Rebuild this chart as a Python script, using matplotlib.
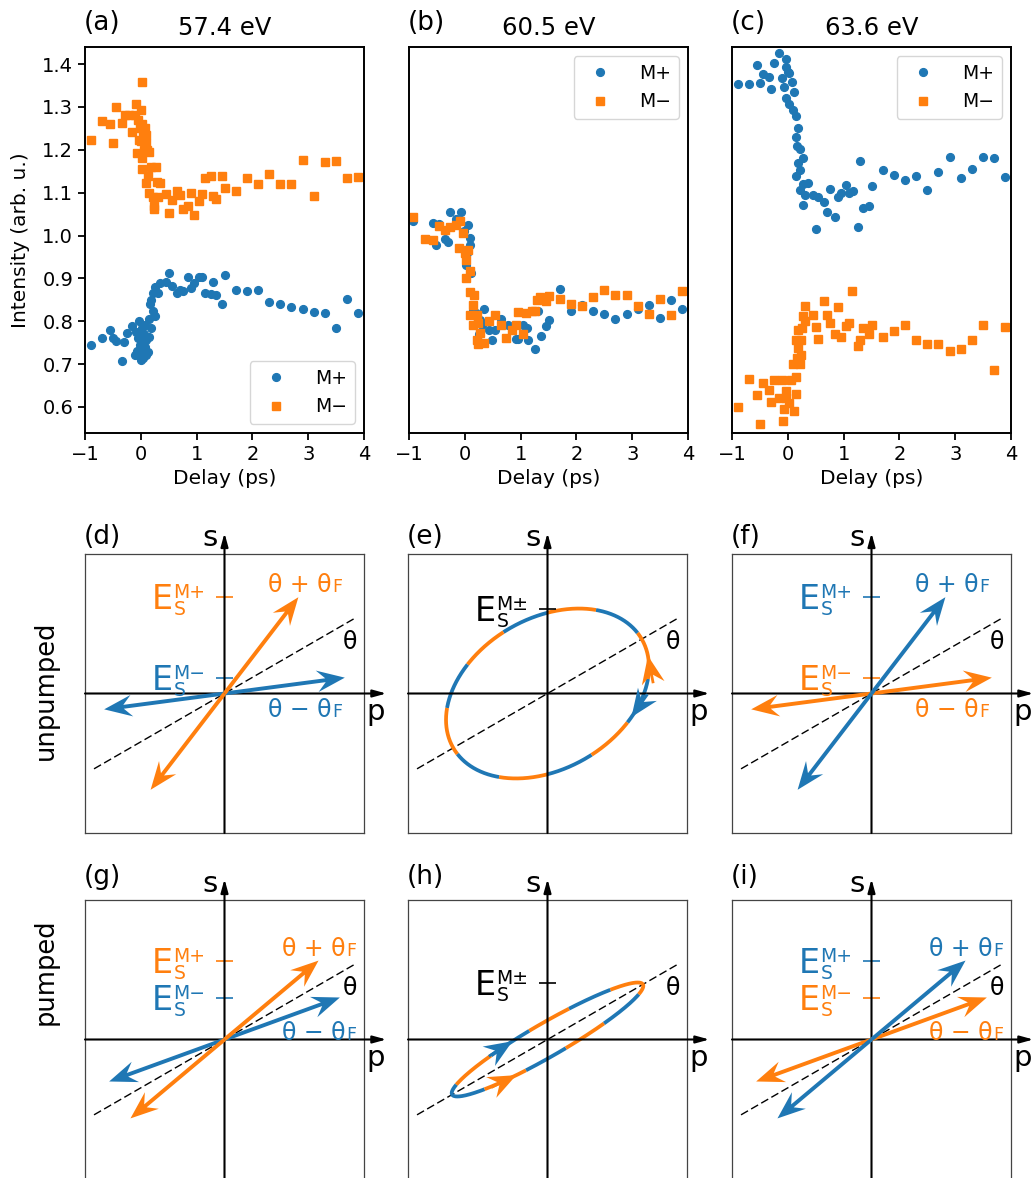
import numpy as np
import matplotlib
matplotlib.use('Agg')
import matplotlib.pyplot as plt

BLUE = '#1f77b4'
ORANGE = '#ff7f0e'

# ---- measured traces: delay (ps) and intensity (arb. u.) ----
energies = ['57.4 eV', '60.5 eV', '63.6 eV']

delay_a_plus = [-0.90, -0.70, -0.55, -0.49, -0.44, -0.34, -0.30, -0.25, -0.15, -0.10,
                -0.08, -0.06, -0.05, -0.04, -0.03, -0.02, 0.00, 0.00, 0.02, 0.03,
                0.04, 0.05, 0.05, 0.07, 0.08, 0.10, 0.10, 0.13, 0.15, 0.15,
                0.17, 0.19, 0.19, 0.22, 0.22, 0.25, 0.25, 0.31, 0.34, 0.45,
                0.51, 0.56, 0.64, 0.70, 0.75, 0.85, 0.90, 0.95, 1.05, 1.10,
                1.15, 1.25, 1.30, 1.35, 1.45, 1.50, 1.70, 1.90, 2.10, 2.30,
                2.50, 2.70, 2.90, 3.10, 3.30, 3.50, 3.70, 3.90]
int_a_plus = [0.744, 0.760, 0.780, 0.760, 0.753, 0.707, 0.751, 0.772, 0.789, 0.720,
              0.775, 0.730, 0.760, 0.720, 0.800, 0.745, 0.710, 0.765, 0.750, 0.785,
              0.715, 0.733, 0.770, 0.740, 0.790, 0.755, 0.720, 0.727, 0.763, 0.806,
              0.841, 0.784, 0.850, 0.823, 0.866, 0.811, 0.880, 0.866, 0.889, 0.891,
              0.912, 0.881, 0.866, 0.873, 0.871, 0.904, 0.877, 0.889, 0.902, 0.904,
              0.866, 0.864, 0.891, 0.862, 0.840, 0.908, 0.873, 0.871, 0.873, 0.845,
              0.840, 0.833, 0.828, 0.821, 0.819, 0.784, 0.852, 0.819]

delay_a_minus = [-0.90, -0.70, -0.55, -0.49, -0.44, -0.34, -0.28, -0.21, -0.16, -0.10,
                 -0.09, -0.07, -0.05, -0.04, -0.02, 0.00, 0.00, 0.02, 0.02, 0.03,
                 0.04, 0.05, 0.06, 0.08, 0.08, 0.10, 0.10, 0.12, 0.15, 0.15,
                 0.19, 0.22, 0.24, 0.24, 0.27, 0.29, 0.30, 0.34, 0.45, 0.51,
                 0.56, 0.64, 0.70, 0.75, 0.85, 0.90, 0.95, 1.05, 1.10, 1.15,
                 1.25, 1.30, 1.35, 1.45, 1.50, 1.70, 1.90, 2.10, 2.30, 2.50,
                 2.70, 2.90, 3.10, 3.30, 3.50, 3.70, 3.90, 0.02, 0.10, 0.13]
int_a_minus = [1.224, 1.267, 1.261, 1.217, 1.301, 1.263, 1.281, 1.281, 1.242, 1.281,
               1.308, 1.193, 1.270, 1.223, 1.250, 1.294, 1.220, 1.358, 1.260, 1.180,
               1.240, 1.200, 1.230, 1.207, 1.250, 1.235, 1.215, 1.200, 1.196, 1.099,
               1.161, 1.091, 1.069, 1.061, 1.161, 1.124, 1.091, 1.122, 1.096, 1.052,
               1.082, 1.104, 1.095, 1.062, 1.070, 1.100, 1.049, 1.080, 1.096, 1.135,
               1.139, 1.093, 1.085, 1.139, 1.112, 1.103, 1.135, 1.120, 1.143, 1.120,
               1.120, 1.176, 1.093, 1.171, 1.174, 1.134, 1.137, 1.155, 1.122, 1.140]

delay_b_plus = [-0.93, -0.57, -0.52, -0.46, -0.36, -0.31, -0.27, -0.15, -0.06, 0.02,
                0.06, 0.09, 0.09, 0.12, 0.14, 0.27, 0.35, 0.44, 0.49, 0.54,
                0.64, 0.78, 0.91, 0.95, 1.05, 1.11, 1.14, 1.25, 1.31, 1.36,
                1.45, 1.51, 1.70, 1.90, 2.10, 2.30, 2.50, 2.70, 2.90, 3.10,
                3.30, 3.50, 3.70, 3.90, -0.02, 0.04, 0.20, 0.30, 0.25]
int_b_plus = [1.033, 1.029, 0.978, 1.027, 0.991, 0.984, 1.054, 1.038, 1.054, 0.932,
              1.025, 0.994, 0.978, 0.912, 0.827, 0.803, 0.829, 0.779, 0.755, 0.779,
              0.806, 0.790, 0.759, 0.759, 0.790, 0.784, 0.755, 0.736, 0.823, 0.765,
              0.789, 0.803, 0.876, 0.823, 0.838, 0.824, 0.817, 0.805, 0.817, 0.828,
              0.838, 0.807, 0.850, 0.829, 1.010, 0.960, 0.820, 0.790, 0.770]

delay_b_minus = [-0.93, -0.72, -0.57, -0.46, -0.36, -0.27, -0.15, -0.09, -0.04, -0.10,
                 0.00, 0.06, 0.02, 0.02, 0.10, 0.09, 0.17, 0.15, 0.10, 0.21,
                 0.15, 0.24, 0.28, 0.21, 0.24, 0.35, 0.44, 0.54, 0.64, 0.74,
                 0.84, 0.91, 0.95, 1.05, 1.10, 1.20, 1.25, 1.29, 1.35, 1.45,
                 1.51, 1.70, 1.90, 2.10, 2.30, 2.50, 2.70, 2.90, 3.10, 3.30,
                 3.50, 3.70, 3.90]
int_b_minus = [1.044, 0.991, 0.990, 1.022, 1.013, 1.021, 1.025, 1.033, 1.005, 0.970,
               0.959, 0.967, 0.943, 0.901, 0.916, 0.869, 0.860, 0.838, 0.815, 0.815,
               0.792, 0.796, 0.772, 0.757, 0.747, 0.749, 0.800, 0.814, 0.792, 0.761,
               0.780, 0.792, 0.821, 0.769, 0.819, 0.823, 0.823, 0.849, 0.856, 0.846,
               0.859, 0.852, 0.840, 0.835, 0.856, 0.872, 0.862, 0.862, 0.836, 0.817,
               0.851, 0.815, 0.871]

delay_c_plus = [-0.90, -0.70, -0.55, -0.49, -0.45, -0.34, -0.30, -0.25, -0.15, -0.10,
                -0.04, -0.03, 0.00, -0.06, -0.04, 0.03, 0.08, 0.11, 0.03, 0.09,
                0.14, 0.18, 0.14, 0.17, 0.21, 0.27, 0.19, 0.22, 0.15, 0.28,
                0.36, 0.22, 0.30, 0.28, 0.45, 0.50, 0.55, 0.65, 0.70, 0.75,
                0.85, 0.90, 0.95, 1.05, 1.10, 1.16, 1.25, 1.30, 1.35, 1.45,
                1.50, 1.70, 1.90, 2.10, 2.30, 2.50, 2.70, 2.90, 3.10, 3.30,
                3.50, 3.70, 3.90]
int_c_plus = [1.353, 1.353, 1.399, 1.356, 1.378, 1.369, 1.343, 1.402, 1.427, 1.368,
              1.413, 1.394, 1.382, 1.346, 1.320, 1.380, 1.359, 1.336, 1.308, 1.294,
              1.280, 1.252, 1.231, 1.210, 1.202, 1.180, 1.169, 1.153, 1.140, 1.120,
              1.122, 1.106, 1.095, 1.071, 1.095, 1.016, 1.089, 1.078, 1.054, 1.109,
              1.044, 1.089, 1.100, 1.118, 1.099, 1.105, 1.021, 1.174, 1.064, 1.069,
              1.116, 1.153, 1.141, 1.130, 1.140, 1.106, 1.149, 1.184, 1.135, 1.155,
              1.183, 1.181, 1.136]

delay_c_minus = [-0.90, -0.70, -0.55, -0.49, -0.45, -0.34, -0.30, -0.25, -0.15, -0.09,
                 -0.10, -0.04, -0.03, -0.07, 0.02, 0.05, 0.11, 0.15, 0.15, 0.09,
                 0.16, 0.21, 0.24, 0.19, 0.24, 0.15, 0.19, 0.25, 0.30, 0.27,
                 0.30, 0.45, 0.50, 0.55, 0.65, 0.70, 0.75, 0.85, 0.90, 0.95,
                 1.05, 1.10, 1.15, 1.25, 1.30, 1.35, 1.45, 1.50, 1.70, 1.90,
                 2.10, 2.30, 2.50, 2.70, 2.90, 3.10, 3.30, 3.50, 3.70, 3.90]
int_c_minus = [0.600, 0.666, 0.627, 0.560, 0.656, 0.640, 0.611, 0.663, 0.621, 0.568,
               0.662, 0.637, 0.621, 0.594, 0.609, 0.662, 0.590, 0.629, 0.670, 0.699,
               0.714, 0.699, 0.720, 0.737, 0.757, 0.757, 0.780, 0.784, 0.836, 0.811,
               0.800, 0.815, 0.786, 0.759, 0.846, 0.815, 0.796, 0.769, 0.833, 0.763,
               0.788, 0.796, 0.871, 0.741, 0.757, 0.784, 0.769, 0.790, 0.763, 0.778,
               0.790, 0.757, 0.747, 0.747, 0.731, 0.734, 0.755, 0.792, 0.686, 0.786]

# ---- polarisation sketch parameters (degrees, field amplitude) ----
theta = 30.0
theta_F = {'unpumped': 22.5, 'pumped': 10.0}
lin_amp = {'unpumped': 0.87, 'pumped': 0.88}
ell_axes = {'unpumped': (0.78, 0.54), 'pumped': (0.79, 0.12)}

W, H, DPI = 1035, 1178, 100
fig = plt.figure(figsize=(W / DPI, H / DPI), dpi=DPI)
renderer = fig.canvas.get_renderer()
PX = 72.0 / DPI  # points per pixel


def box(x0, y0, w, h):
    return [x0 / W, 1 - (y0 + h) / H, w / W, h / H]


# ---------------- top row: data ----------------
lefts = [85, 409, 732]
traces = [(delay_a_plus, int_a_plus, delay_a_minus, int_a_minus),
          (delay_b_plus, int_b_plus, delay_b_minus, int_b_minus),
          (delay_c_plus, int_c_plus, delay_c_minus, int_c_minus)]
leg_loc = ['lower right', 'upper right', 'upper right']
for i in range(3):
    ax = fig.add_axes(box(lefts[i], 47, 279, 386))
    dp, ip, dm, im = traces[i]
    ax.plot(dp, ip, 'o', color=BLUE, ms=5.6, label='M+')
    ax.plot(dm, im, 's', color=ORANGE, ms=5.3, label='M−')
    ax.set_xlim(-1, 4)
    ax.set_ylim(0.539, 1.44)
    ax.set_xticks([-1, 0, 1, 2, 3, 4])
    ax.set_xlabel('Delay (ps)', fontsize=14.5)
    ax.set_title(energies[i], fontsize=17.5, pad=9)
    ax.tick_params(labelsize=14, width=1.3, length=5)
    for sp in ax.spines.values():
        sp.set_linewidth(1.4)
    if i == 0:
        ax.set_yticks(np.arange(0.6, 1.41, 0.1))
        ax.set_ylabel('Intensity (arb. u.)', fontsize=14.5, labelpad=9)
    else:
        ax.set_yticks([])
    ax.legend(loc=leg_loc[i], fontsize=13.5, numpoints=1, handletextpad=1.1)
    ax.annotate('(' + 'abc'[i] + ')', xy=(0, 1), xycoords='axes fraction',
                xytext=(-1, 17 * PX), textcoords='offset points',
                fontsize=19, ha='left', va='baseline')


# ---------------- sketches ----------------
def frame(ax, letter, label_gap):
    ax.set_xlim(-1, 1)
    ax.set_ylim(-1, 1)
    ax.set_xticks([])
    ax.set_yticks([])
    for sp in ax.spines.values():
        sp.set_color('#444444')
        sp.set_linewidth(0.9)
    arr = dict(arrowstyle='-|>,head_length=0.8,head_width=0.22', color='k',
               lw=1.5, shrinkA=0, shrinkB=0, mutation_scale=10)
    ax.annotate('', xy=(1.16, 0), xytext=(-1, 0), arrowprops=arr, annotation_clip=False)
    ax.annotate('', xy=(0, 1.15), xytext=(0, -1), arrowprops=arr, annotation_clip=False)
    th = np.radians(theta)
    ax.plot([-1.08 * np.cos(th), 1.08 * np.cos(th)], [-1.08 * np.sin(th), 1.08 * np.sin(th)],
            color='k', lw=1.0, ls=(0, (5.8, 2.6)))
    ax.text(0.90, 0.32, 'θ', fontsize=17, ha='center', va='baseline')
    ax.text(-0.05, 1.057, 's', fontsize=21, ha='right', va='baseline', clip_on=False)
    ax.text(1.02, -0.19, 'p', fontsize=21, ha='left', va='baseline', clip_on=False)
    ax.annotate('(' + letter + ')', xy=(0, 1), xycoords='axes fraction',
                xytext=(-1, label_gap * PX), textcoords='offset points',
                fontsize=19, ha='left', va='baseline')


def e_label(ax, y, sup, color):
    ax.plot([-0.06, 0.06], [y, y], color=color, lw=1.2, solid_capstyle='butt')
    ax.annotate('E', xy=(0, y), xytext=(-52 * PX, -12 * PX), textcoords='offset points',
                fontsize=24, color=color, ha='right', va='baseline')
    ax.annotate('M' + sup, xy=(0, y), xytext=(-51 * PX, -1 * PX), textcoords='offset points',
                fontsize=13.5, color=color, ha='left', va='baseline')
    ax.annotate('S', xy=(0, y), xytext=(-51 * PX, -18 * PX), textcoords='offset points',
                fontsize=13.5, color=color, ha='left', va='baseline')


def theta_text(ax, x, y, sign, color):
    t = ax.text(x, y, 'θ ' + sign + ' θ', fontsize=17, color=color, ha='left', va='baseline')
    w = t.get_window_extent(renderer).width * PX
    ax.annotate('F', xy=(x, y), xytext=(w + 0.5, 0), textcoords='offset points',
                fontsize=12.5, color=color, ha='left', va='baseline')


def double_arrow(ax, amp, ang, color):
    a = np.radians(ang)
    for sgn in (1, -1):
        ax.arrow(0, 0, sgn * amp * np.cos(a), sgn * amp * np.sin(a), width=0.028,
                 head_width=0.155, head_length=0.2, overhang=0.3,
                 length_includes_head=True, fc=color, ec=color, lw=0, zorder=3)


def linear_panel(ax, state, c_plus, c_minus, txt_pos):
    amp = lin_amp[state]
    ang_p = theta + theta_F[state]
    ang_m = theta - theta_F[state]
    double_arrow(ax, amp, ang_m, c_minus)
    double_arrow(ax, amp, ang_p, c_plus)
    e_label(ax, amp * np.sin(np.radians(ang_p)), '+', c_plus)
    e_label(ax, amp * np.sin(np.radians(ang_m)), '−', c_minus)
    theta_text(ax, txt_pos[0], txt_pos[1], '+', c_plus)
    theta_text(ax, txt_pos[0], txt_pos[2], '−', c_minus)


def ell_xy(t, a, b):
    ang = np.radians(theta)
    u, v = a * np.cos(t), b * np.sin(t)
    return u * np.cos(ang) - v * np.sin(ang), u * np.sin(ang) + v * np.cos(ang)


def ell_dir(t, a, b, sense):
    ang = np.radians(theta)
    du, dv = -a * np.sin(t), b * np.cos(t)
    dx = du * np.cos(ang) - dv * np.sin(ang)
    dy = du * np.sin(ang) + dv * np.cos(ang)
    n = np.hypot(dx, dy)
    return sense * dx / n, sense * dy / n


def elliptic_panel(ax, state, nseg, t0, first, heads):
    a, b = ell_axes[state]
    t = np.linspace(np.radians(t0), np.radians(t0) + 2 * np.pi, 3000)
    x, y = ell_xy(t, a, b)
    cum = np.concatenate([[0], np.cumsum(np.hypot(np.diff(x), np.diff(y)))])
    idx = np.minimum((cum / (cum[-1] / nseg)).astype(int), nseg - 1)
    cols = [first, BLUE if first == ORANGE else ORANGE]
    for k in range(nseg):
        w = np.where(idx == k)[0]
        j0, j1 = w[0], min(w[-1] + 2, len(t))
        ax.plot(x[j0:j1], y[j0:j1], color=cols[k % 2], lw=2.7, solid_capstyle='butt')
    for tt, sense, col in heads:
        tr = np.radians(tt)
        xt, yt = ell_xy(tr, a, b)
        dx, dy = ell_dir(tr, a, b, sense)
        hl = 0.2
        ax.arrow(xt - hl * dx, yt - hl * dy, hl * dx, hl * dy, width=0.02,
                 head_width=0.165, head_length=hl, overhang=0.3,
                 length_includes_head=True, fc=col, ec=col, lw=0, zorder=3)
    e_label(ax, np.max(y), '±', 'k')


rows = [('unpumped', 554, 10.5, 'def'), ('pumped', 900, 16.5, 'ghi')]
row_label_y = {'unpumped': 690, 'pumped': 972}
for state, y0, gap, letters in rows:
    axd = fig.add_axes(box(85, y0, 279, 279))
    axe = fig.add_axes(box(408, y0, 279, 279))
    axf = fig.add_axes(box(732, y0, 279, 279))
    for ax, L in zip((axd, axe, axf), letters):
        frame(ax, L, gap)
    if state == 'unpumped':
        txt = (0.31, 0.73, -0.165)
        linear_panel(axd, state, ORANGE, BLUE, txt)
        linear_panel(axf, state, BLUE, ORANGE, txt)
        elliptic_panel(axe, state, 12, 68, BLUE, [(-13.5, 1, ORANGE), (-56, -1, BLUE)])
    else:
        txt = (0.41, 0.60, 0.0)
        linear_panel(axd, state, ORANGE, BLUE, txt)
        linear_panel(axf, state, BLUE, ORANGE, txt)
        elliptic_panel(axe, state, 10, 72, ORANGE, [(106.5, -1, BLUE), (246, 1, ORANGE)])
    fig.text(46 / W, 1 - row_label_y[state] / H, state, rotation=90,
             fontsize=18.5, ha='center', va='center')

fig.savefig('out.png', dpi=DPI)
